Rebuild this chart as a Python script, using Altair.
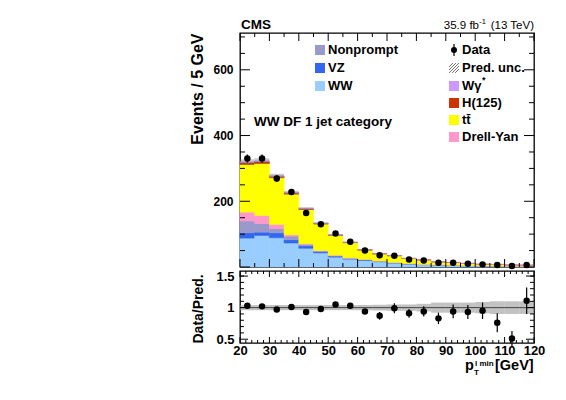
import altair as alt
import pandas as pd

# ---------------- data ----------------
bin_low = list(range(20, 120, 5))
bin_width = 5

ww        = [88, 96, 89, 73, 57, 43, 30, 24, 20, 16, 12, 9, 7, 6, 5, 4, 3, 2.5, 2, 2]
vz        = [16, 10, 15, 10, 7, 4, 3, 2, 2, 1.5, 1.2, 1, 0.8, 0.7, 0.6, 0.5, 0.4, 0.3, 0.3, 0.3]
nonprompt = [36, 26, 13, 11, 5, 2, 2, 1, 1, 0.8, 0.6, 0.5, 0.4, 0.3, 0.3, 0.2, 0.2, 0.2, 0.1, 0.1]
drellyan  = [27, 25, 13, 4, 2, 1, 1, 1, 0.5, 0.5, 0.4, 0.3, 0.2, 0.2, 0.2, 0.1, 0.1, 0.1, 0.1, 0.1]
ttbar     = [145, 158, 142, 124, 104, 81, 60, 46, 28, 21, 20, 15, 13, 8, 7.6, 6, 4.4, 4.6, 3.3, 2.8]
higgs     = [6, 6, 4, 3, 2, 1.5, 1, 1, 0.8, 0.6, 0.5, 0.4, 0.3, 0.3, 0.2, 0.2, 0.2, 0.1, 0.1, 0.1]
wgstar    = [2, 2, 1, 1, 1, 0.5, 0.5, 0.3, 0.3, 0.2, 0.2, 0.1, 0.1, 0.1, 0.1, 0.1, 0.1, 0.1, 0.1, 0.1]

data_vals = [330, 330, 269, 228, 164, 130, 102, 77, 50, 36, 34, 23, 20, 13, 13, 10, 8, 6, 3, 6]
data_err  = [12, 12, 10, 9, 8, 7, 6, 5, 4, 3.5, 3, 2.5, 2, 1.8, 1.6, 1.4, 1.2, 1, 0.8, 1.2]

ratio_vals = [1.03, 1.02, 0.97, 1.01, 0.93, 0.98, 1.05, 1.03, 0.94, 0.87,
              0.99, 0.91, 0.94, 0.83, 0.94, 0.93, 0.95, 0.76, 0.51, 1.11]
ratio_err  = [0.02, 0.02, 0.02, 0.02, 0.025, 0.025, 0.03, 0.035, 0.04, 0.06,
              0.08, 0.07, 0.08, 0.09, 0.11, 0.11, 0.13, 0.15, 0.12, 0.21]
unc_rel    = [0.04, 0.04, 0.04, 0.04, 0.04, 0.04, 0.04, 0.04, 0.04, 0.045,
              0.05, 0.05, 0.06, 0.08, 0.08, 0.08, 0.09, 0.10, 0.10, 0.10]

proc_names  = ["WW", "VZ", "Nonprompt", "Drell-Yan", "ttbar", "H(125)", "Wgstar"]
proc_colors = ["#99ccff", "#3366ee", "#9999cc", "#ff99cc", "#ffff00", "#cc3300", "#cc99ff"]
components  = [ww, vz, nonprompt, drellyan, ttbar, higgs, wgstar]

legend_left  = ["Nonprompt", "VZ", "WW"]
legend_left_colors = ["#9999cc", "#3366ee", "#99ccff"]
legend_right = ["Data", "Pred. unc.", "W\u03b3", "H(125)", "tt\u0304", "Drell-Yan"]
legend_right_colors = [None, None, "#cc99ff", "#cc3300", "#ffff00", "#ff99cc"]

y_main_labels = [200, 400, 600]
y_ratio_labels = [0.5, 1.0, 1.5]
x_labels = list(range(20, 121, 10))

category_text = "WW DF 1 jet category"

# ---------------- geometry ----------------
W, HM, HR = 294, 234, 72
XMIN, XMAX = 20, 120
YMAX = 712
RMIN, RMAX = 0.44, 1.58
FONT = "Liberation Sans"

# ---------------- frames ----------------
rows = []
for i, lo in enumerate(bin_low):
    base = 0.0
    for k, (name, vals) in enumerate(zip(proc_names, components)):
        rows.append(dict(x0=lo, x1=lo + bin_width, y0=base, y1=base + vals[i], proc=name, k=k))
        base += vals[i]
stack_df = pd.DataFrame(rows)

tot = [sum(c[i] for c in components) for i in range(len(bin_low))]
band_df = pd.DataFrame({
    "x0": bin_low, "x1": [b + bin_width for b in bin_low],
    "lo": [t * (1 - u * 0.6) for t, u in zip(tot, unc_rel)],
    "hi": [t * (1 + u * 0.6) for t, u in zip(tot, unc_rel)],
    "rlo": [1 - u for u in unc_rel], "rhi": [1 + u for u in unc_rel],
})
pts_df = pd.DataFrame({
    "x": [b + bin_width / 2 for b in bin_low],
    "d": data_vals,
    "dlo": [d - e for d, e in zip(data_vals, data_err)],
    "dhi": [d + e for d, e in zip(data_vals, data_err)],
    "r": ratio_vals,
    "rlo": [r - e for r, e in zip(ratio_vals, ratio_err)],
    "rhi": [r + e for r, e in zip(ratio_vals, ratio_err)],
})

# ---------------- scales & axes ----------------
xs = alt.Scale(domain=[XMIN, XMAX], nice=False, zero=False)
ysm = alt.Scale(domain=[0, YMAX], nice=False, zero=False)
ysr = alt.Scale(domain=[RMIN, RMAX], nice=False, zero=False)

ax_y_main = alt.Axis(values=y_main_labels, title="Events / 5 GeV", titleAnchor="end",
                     titleFontSize=16, titleFontWeight="bold", titlePadding=7,
                     labelFontSize=12, labelFontWeight="bold", labelPadding=7,
                     ticks=False, tickSize=0, domain=False, grid=False,
                     minExtent=28, maxExtent=28)
ax_x_ratio = alt.Axis(values=x_labels, format="d", labelFontSize=13, labelFontWeight="bold",
                      labelPadding=1, ticks=False, tickSize=0, domain=False, grid=False,
                      title=None, labelFlush=False, labelOverlap=False)
ax_y_ratio = alt.Axis(values=y_ratio_labels, format=".1~f", title="Data/Pred.", titleAnchor="start",
                      titleFontSize=14, titleFontWeight="bold", titlePadding=7,
                      labelFontSize=13, labelFontWeight="bold", labelPadding=6,
                      ticks=False, tickSize=0, domain=False, grid=False,
                      minExtent=28, maxExtent=28)


def MX(f): return alt.X(f, type="quantitative", scale=xs, axis=None)
def MY(f): return alt.Y(f, type="quantitative", scale=ysm, axis=ax_y_main)
def RX(f): return alt.X(f, type="quantitative", scale=xs, axis=ax_x_ratio)
def RY(f): return alt.Y(f, type="quantitative", scale=ysr, axis=ax_y_ratio)


def inner_ticks(xmaj, xmin_, ymaj, ymin_, Lx, lx, Ly, ly, XE, YE, height):
    layers = []
    for vals, L in ((xmaj, Lx), (xmin_, lx)):
        df = pd.DataFrame({"v": vals})
        layers.append(alt.Chart(df).mark_rule(color="black", strokeWidth=1).encode(
            x=XE("v"), y=alt.value(height), y2=alt.value(height - L)))
        layers.append(alt.Chart(df).mark_rule(color="black", strokeWidth=1).encode(
            x=XE("v"), y=alt.value(0), y2=alt.value(L)))
    for vals, L in ((ymaj, Ly), (ymin_, ly)):
        df = pd.DataFrame({"v": vals})
        layers.append(alt.Chart(df).mark_rule(color="black", strokeWidth=1).encode(
            y=YE("v"), x=alt.value(0), x2=alt.value(L)))
        layers.append(alt.Chart(df).mark_rule(color="black", strokeWidth=1).encode(
            y=YE("v"), x=alt.value(W), x2=alt.value(W - L)))
    return layers


def txt(s, x, y, size, weight="bold", align="left", baseline="alphabetic"):
    return alt.Chart(pd.DataFrame({"t": [s]})).mark_text(
        font=FONT, fontSize=size, fontWeight=weight, align=align, baseline=baseline,
        color="black").encode(text="t:N", x=alt.value(x), y=alt.value(y))


cscale = alt.Scale(domain=proc_names, range=proc_colors)

# ---------------- main panel ----------------
stack = alt.Chart(stack_df).mark_rect(strokeWidth=0.6).encode(
    x=MX("x0"), x2="x1", y=MY("y0"), y2="y1",
    color=alt.Color("proc:N", scale=cscale, legend=None),
    stroke=alt.Stroke("proc:N", scale=cscale, legend=None),
)
band_main = alt.Chart(band_df).mark_rect(color="#666666", opacity=0.35).encode(
    x=MX("x0"), x2="x1", y=MY("lo"), y2="hi")
err_main = alt.Chart(pts_df).mark_rule(color="black", strokeWidth=1.2).encode(
    x=MX("x"), y=MY("dlo"), y2="dhi")
dots_main = alt.Chart(pts_df).mark_circle(color="black", size=42, opacity=1).encode(
    x=MX("x"), y=MY("d"))

ticks_main = inner_ticks(list(range(20, 121, 10)), list(range(25, 120, 10)),
                         [0, 200, 400, 600], [v for v in range(50, 712, 50) if v % 200],
                         8, 4, 10, 5, MX, MY, HM)

texts_main = [
    txt("CMS", 1, -4, 13.5),
    txt("(13 TeV)", W, -4, 11.5, weight="normal", align="right"),
    txt("-1", 246, -9, 7.5, weight="normal", align="right"),
    txt("35.9 fb", 239, -4, 11.5, weight="normal", align="right"),
    txt(category_text, 14, 93, 13.5),
]

legend_layers = []
one = pd.DataFrame({"a": [0]})
rows_left_y = [17, 35, 53]
for lab, col, yy in zip(legend_left, legend_left_colors, rows_left_y):
    legend_layers.append(alt.Chart(one).mark_rect(color=col).encode(
        x=alt.value(75), x2=alt.value(85), y=alt.value(yy - 5), y2=alt.value(yy + 5)))
    legend_layers.append(txt(lab, 88, yy, 13, baseline="middle"))

rows_right_y = [17, 35, 53, 70, 87, 104]
for lab, col, yy in zip(legend_right, legend_right_colors, rows_right_y):
    if lab == "Data":
        legend_layers.append(alt.Chart(one).mark_rule(color="black", strokeWidth=1.2).encode(
            x=alt.value(214), y=alt.value(yy - 6), y2=alt.value(yy + 6)))
        legend_layers.append(alt.Chart(one).mark_circle(color="black", size=36, opacity=1).encode(
            x=alt.value(214), y=alt.value(yy)))
    elif lab.startswith("Pred"):
        for k in (0, 3, 6):
            legend_layers.append(alt.Chart(one).mark_rule(color="#555555", strokeWidth=0.8).encode(
                x=alt.value(209 + k), y=alt.value(yy + 5), x2=alt.value(219), y2=alt.value(yy - 5 + k)))
        for k in (3, 6):
            legend_layers.append(alt.Chart(one).mark_rule(color="#555555", strokeWidth=0.8).encode(
                x=alt.value(209), y=alt.value(yy + 5 - k), x2=alt.value(219 - k), y2=alt.value(yy - 5)))
    else:
        legend_layers.append(alt.Chart(one).mark_rect(color=col).encode(
            x=alt.value(209), x2=alt.value(219), y=alt.value(yy - 5), y2=alt.value(yy + 5)))
    legend_layers.append(txt(lab, 222, yy, 13, baseline="middle"))
legend_layers.append(txt("*", 242, 50, 9))

main = alt.layer(stack, band_main, err_main, dots_main, *ticks_main, *texts_main, *legend_layers
                 ).properties(width=W, height=HM)

# ---------------- ratio panel ----------------
band_ratio = alt.Chart(band_df).mark_rect(color="#999999", opacity=0.6).encode(
    x=RX("x0"), x2="x1", y=RY("rlo"), y2="rhi")
one_line = alt.Chart(pd.DataFrame({"v": [1.0]})).mark_rule(color="#444444", strokeWidth=1).encode(
    y=RY("v"), x=alt.value(0), x2=alt.value(W))
err_ratio = alt.Chart(pts_df).mark_rule(color="black", strokeWidth=1.2).encode(
    x=RX("x"), y=RY("rlo"), y2="rhi")
dots_ratio = alt.Chart(pts_df).mark_circle(color="black", size=42, opacity=1).encode(
    x=RX("x"), y=RY("r"))

ticks_ratio = inner_ticks(list(range(20, 121, 10)), [v for v in range(22, 120, 2) if v % 10],
                          [0.5, 1.0, 1.5], [round(0.5 + 0.1 * i, 1) for i in range(1, 11) if i != 5],
                          6, 3, 8, 4, RX, RY, HR)

xtitle = [
    txt("p", 225, 98.5, 14.5),
    txt("T", 234, 103.5, 8),
    txt("l min", 235, 94.5, 8),
    txt("[GeV]", 255, 98.5, 14.5),
]

ratio = alt.layer(band_ratio, one_line, err_ratio, dots_ratio, *ticks_ratio, *xtitle
                  ).properties(width=W, height=HR)

chart = alt.vconcat(main, ratio, spacing=-1).properties(
    padding={"left": 180, "top": 9, "right": 5, "bottom": 5}
).configure(font=FONT).configure_view(
    stroke="black", strokeWidth=1.3
).configure_axis(labelColor="black", titleColor="black", labelFont=FONT, titleFont=FONT)

chart.save("out.html", embed_options={"renderer": "svg", "actions": False})
